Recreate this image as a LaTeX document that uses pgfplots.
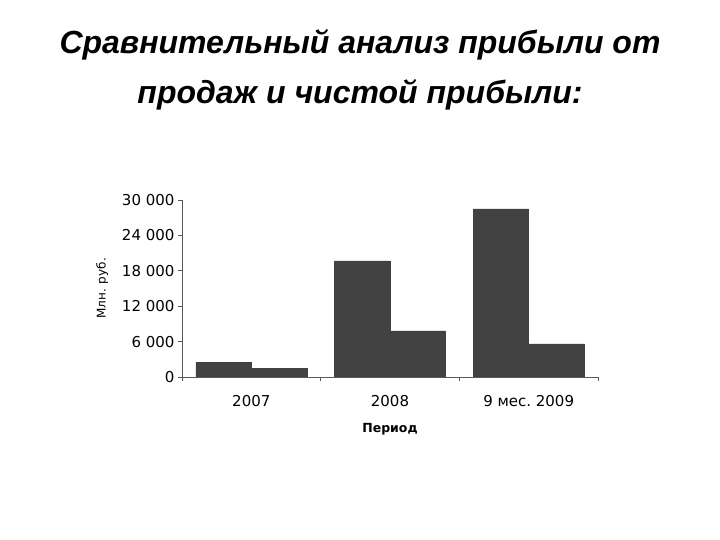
\documentclass[border=0pt]{standalone}
\usepackage{pgfplots}
\pgfplotsset{compat=1.18}
\usepackage{fontspec}
\setmainfont{DejaVu Sans}
\newfontfamily\titlefont{Liberation Sans}
\definecolor{BarGray}{HTML}{424242}

\begin{document}
\begin{tikzpicture}
  \begin{axis}[
      scale only axis,
      width=416pt,
      height=177pt,
      xmin=-0.5, xmax=2.5,
      ymin=0, ymax=30000,
      axis x line*=bottom,
      axis y line*=left,
      axis line style={black!65, line width=0.9pt},
      xtick={-0.5,0.5,1.5,2.5},
      xticklabels={},
      extra x ticks={0,1,2},
      extra x tick labels={2007,2008,9 мес.\ 2009},
      extra x tick style={major tick length=0pt, tick label style={yshift=-15pt}},
      ytick={0,6000,12000,18000,24000,30000},
      tick align=outside,
      major tick length=4pt,
      tick style={black!65, line width=0.6pt},
      scaled y ticks=false,
      /pgf/number format/1000 sep={\ },
      /pgf/number format/assume math mode=true,
      tick label style={font=\fontsize{15}{17}\selectfont},
      xlabel={\bfseries Период},
      xlabel style={font=\fontsize{12.5}{14}\selectfont, yshift=-6pt},
      ylabel={Млн. руб.},
      ylabel style={font=\fontsize{12}{14}\selectfont, yshift=7pt},
      ybar,
      bar width=0.4,
    ]
    \addplot[fill=BarGray, draw=black!75, bar shift=-0.2] coordinates {(0,2500) (1,19700) (2,28500)};
    \addplot[fill=BarGray, draw=black!75, bar shift=0.2] coordinates {(0,1500) (1,7800) (2,5600)};
  \end{axis}
  \node[font=\titlefont\bfseries\itshape\fontsize{32}{36}\selectfont] at (178pt,332pt) {Сравнительный анализ прибыли от};
  \node[font=\titlefont\bfseries\itshape\fontsize{32}{36}\selectfont] at (178pt,282pt) {продаж и чистой прибыли:};
  \pgfresetboundingbox
  \path[use as bounding box] (-182pt,-163pt) rectangle (538pt,377pt);
\end{tikzpicture}
\end{document}
